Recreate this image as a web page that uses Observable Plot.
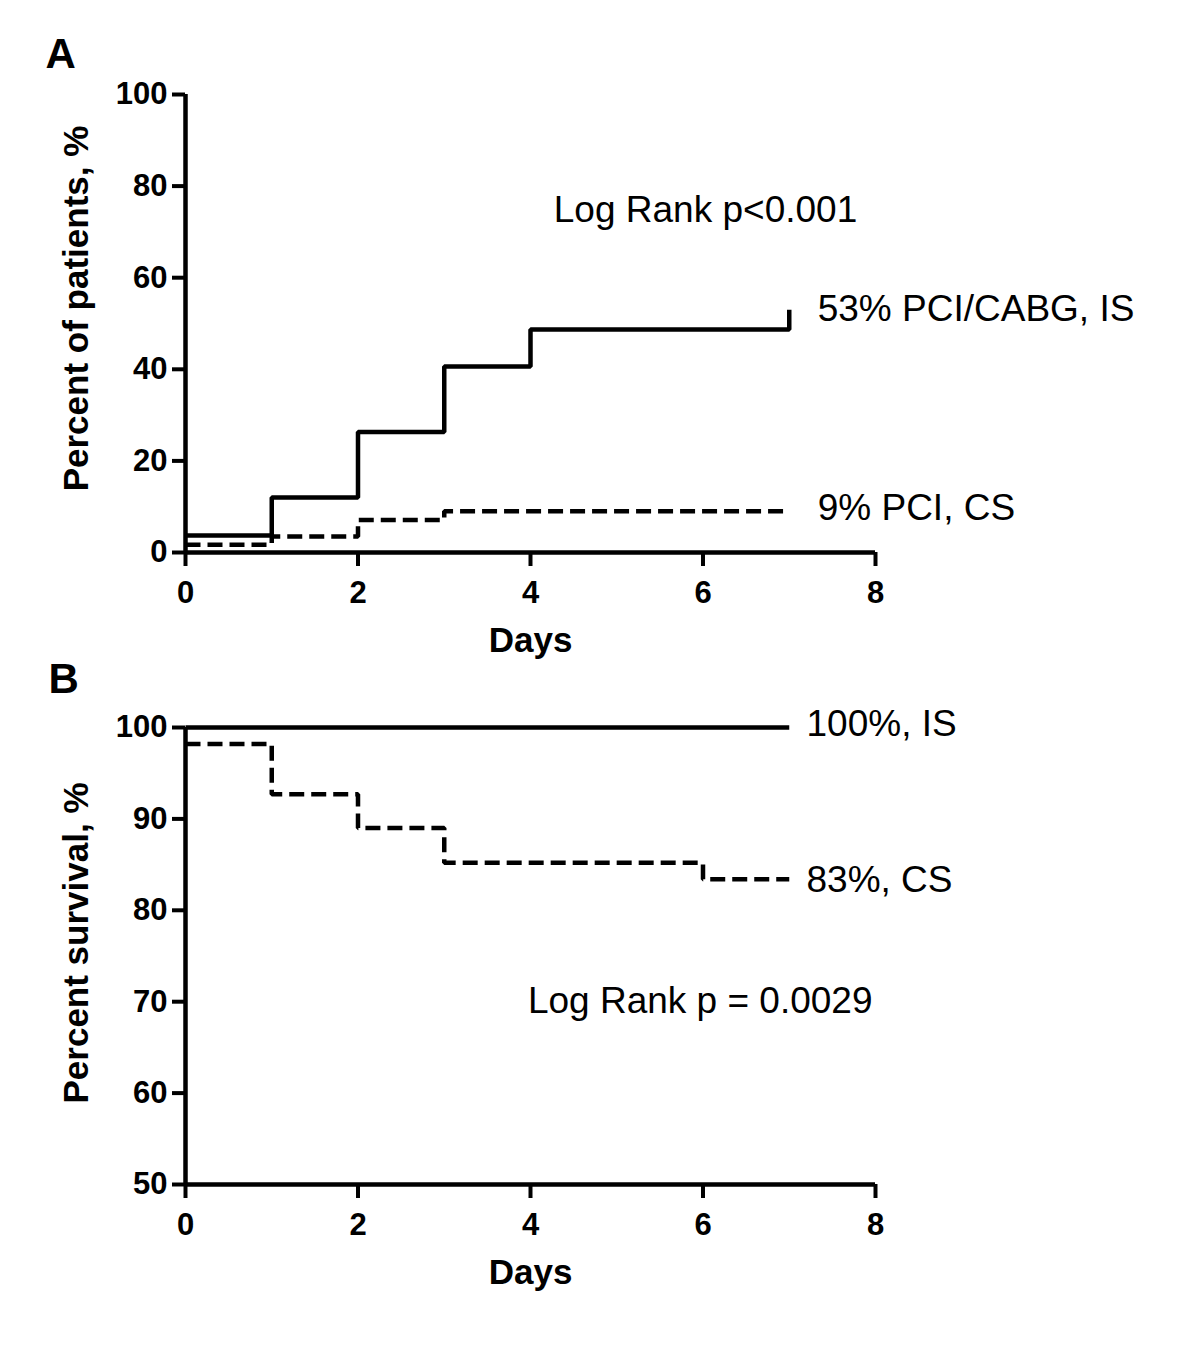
<!DOCTYPE html>
<html>
<head>
<meta charset="utf-8">
<script src="https://cdn.jsdelivr.net/npm/d3@7"></script>
<script src="https://cdn.jsdelivr.net/npm/@observablehq/plot@0.6"></script>
<style>
  html, body { margin: 0; padding: 0; background: #fff; }
  #chart { width: 1200px; }
  #chart svg { display: block; font-family: "Liberation Sans", Arial, sans-serif; }
</style>
</head>
<body>
<div id="chart"></div>
<script>
// ---- Panel A: percent of patients with PCI/CABG ----
const aDaysIS = [0, 1, 2, 3, 4, 7, 7];
const aPctIS  = [3.7, 12, 26.3, 40.6, 48.7, 48.7, 53];
const aDaysCS = [0, 1, 2, 3, 7];
const aPctCS  = [1.7, 3.5, 7.1, 9, 9];
const aYTicks = [0, 20, 40, 60, 80, 100];

// ---- Panel B: survival ----
const bDaysIS = [0, 7];
const bSurvIS = [100, 100];
const bDaysCS = [0, 1, 2, 3, 6, 7];
const bSurvCS = [98.2, 92.7, 89, 85.2, 83.4, 83.4];
const bYTicks = [50, 60, 70, 80, 90, 100];

const xTicks = [0, 2, 4, 6, 8];
const xLabel = "Days";
const aYLabel = "Percent of patients, %";
const bYLabel = "Percent survival, %";

const aNotes = [
  {x: 4.27, y: 74.7, text: "Log Rank p<0.001"},
  {x: 7.33, y: 53.2, text: "53% PCI/CABG, IS"},
  {x: 7.33, y: 9.6, text: "9% PCI, CS"}
];
const bNotes = [
  {x: 7.2, y: 100.4, text: "100%, IS"},
  {x: 7.2, y: 83.3, text: "83%, CS"},
  {x: 3.97, y: 70.1, text: "Log Rank p = 0.0029"}
];

const toRows = (xs, ys) => xs.map((d, i) => ({x: d, y: ys[i]}));

function panel({height, marginTop, marginBottom, yDomain, yTicks, yLabel, yLabelDy, letter, letterDx, letterDy, solid, dashed, notes}) {
  return Plot.plot({
    width: 1200,
    height,
    marginLeft: 185,
    marginRight: 325,
    marginTop,
    marginBottom,
    x: {domain: [0, 8], axis: null},
    y: {domain: yDomain, axis: null},
    style: {fontFamily: "'Liberation Sans', Arial, sans-serif", color: "#000", background: "#fff", overflow: "visible"},
    marks: [
      Plot.axisX(xTicks, {label: null, tickSize: 14, tickPadding: 14, strokeWidth: 4, fontSize: 31, fontWeight: "bold", lineAnchor: "top"}),
      Plot.axisY(yTicks, {label: null, tickSize: 13, tickPadding: 5, strokeWidth: 4, fontSize: 31, fontWeight: "bold"}),
      Plot.ruleX([0], {y1: yDomain[0], y2: yDomain[1], strokeWidth: 4.5, stroke: "#000"}),
      Plot.ruleY([yDomain[0]], {x1: 0, x2: 8, strokeWidth: 4.5, stroke: "#000"}),
      Plot.line(solid, {x: "x", y: "y", curve: "step-after", stroke: "#000", strokeWidth: 4.5, strokeLinejoin: "miter", strokeLinecap: "butt"}),
      Plot.line(dashed, {x: "x", y: "y", curve: "step-after", stroke: "#000", strokeWidth: 4.5, strokeDasharray: "15,7", strokeLinejoin: "miter", strokeLinecap: "butt"}),
      Plot.text(notes, {x: "x", y: "y", text: "text", textAnchor: "start", fontSize: 37, fill: "#000", lineAnchor: "middle"}),
      Plot.text([xLabel], {frameAnchor: "bottom", dy: 75, lineAnchor: "top", fontSize: 35, fontWeight: "bold", fill: "#000"}),
      Plot.text([yLabel], {frameAnchor: "left", dx: -98, dy: yLabelDy, rotate: -90, textAnchor: "middle", lineAnchor: "bottom", fontSize: 35, fontWeight: "bold", fill: "#000"}),
      Plot.text([letter], {frameAnchor: "top-left", dx: letterDx, dy: letterDy, textAnchor: "start", lineAnchor: "top", fontSize: 42, fontWeight: "bold", fill: "#000"})
    ]
  });
}

const chart = document.getElementById("chart");
chart.appendChild(panel({
  height: 670, marginTop: 94, marginBottom: 118,
  yDomain: [0, 100], yTicks: aYTicks, yLabel: aYLabel, yLabelDy: -15,
  letter: "A", letterDx: -140, letterDy: -56,
  solid: toRows(aDaysIS, aPctIS), dashed: toRows(aDaysCS, aPctCS), notes: aNotes
}));
chart.appendChild(panel({
  height: 682, marginTop: 57, marginBottom: 168,
  yDomain: [50, 100], yTicks: bYTicks, yLabel: bYLabel, yLabelDy: -13,
  letter: "B", letterDx: -137, letterDy: -64,
  solid: toRows(bDaysIS, bSurvIS), dashed: toRows(bDaysCS, bSurvCS), notes: bNotes
}));
</script>
</body>
</html>
